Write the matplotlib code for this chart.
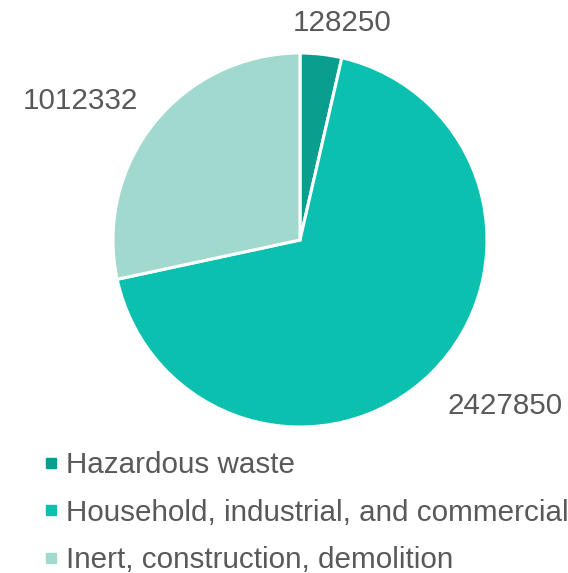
import numpy as np
import matplotlib
matplotlib.use("Agg")
import matplotlib.pyplot as plt
from matplotlib.lines import Line2D

# Data
categories = ["Hazardous waste", "Household, industrial, and commercial", "Inert, construction, demolition"]
values = [128250, 2427850, 1012332]
colors = ["#0a9e8e", "#0cc0b0", "#a2d9cf"]
text_color = "#595959"

plt.rcParams["font.family"] = ["Liberation Sans", "DejaVu Sans"]

W, H = 568, 573
fig = plt.figure(figsize=(W / 100, H / 100), dpi=100)

# pie axes: centre (300, 240) px, radius 187 px
cx, cy, r = 300, 240, 187
ax = fig.add_axes([(cx - r) / W, (H - cy - r) / H, 2 * r / W, 2 * r / H])
wedges, _ = ax.pie(values, colors=colors, startangle=90, counterclock=False,
                   radius=1.0, wedgeprops=dict(edgecolor="white", linewidth=2.2))
ax.set_xlim(-1, 1)
ax.set_ylim(-1, 1)
ax.set_aspect("equal")

# value labels placed around each wedge's mid angle
label_dist = [1.18, 1.41, 1.39]
label_shift = [-4.5, 6.5, 6.5]  # degrees
for w, v, d, s in zip(wedges, values, label_dist, label_shift):
    ang = np.deg2rad((w.theta1 + w.theta2) / 2 + s)
    ax.text(d * np.cos(ang), d * np.sin(ang), str(v), ha="center", va="center",
            fontsize=21.3, color=text_color, clip_on=False)

# legend
handles = [Line2D([], [], marker="s", linestyle="none", markersize=7.5,
                  markerfacecolor=c, markeredgecolor=c) for c in colors]
leg = fig.legend(handles, categories, loc="upper left", bbox_to_anchor=(42 / W, 1 - 451 / H),
                 frameon=False, fontsize=21.3, labelspacing=0.66, handlelength=0.6,
                 handletextpad=0.22, borderaxespad=0, borderpad=0)
for t in leg.get_texts():
    t.set_color(text_color)

fig.savefig("out.png", dpi=100)
